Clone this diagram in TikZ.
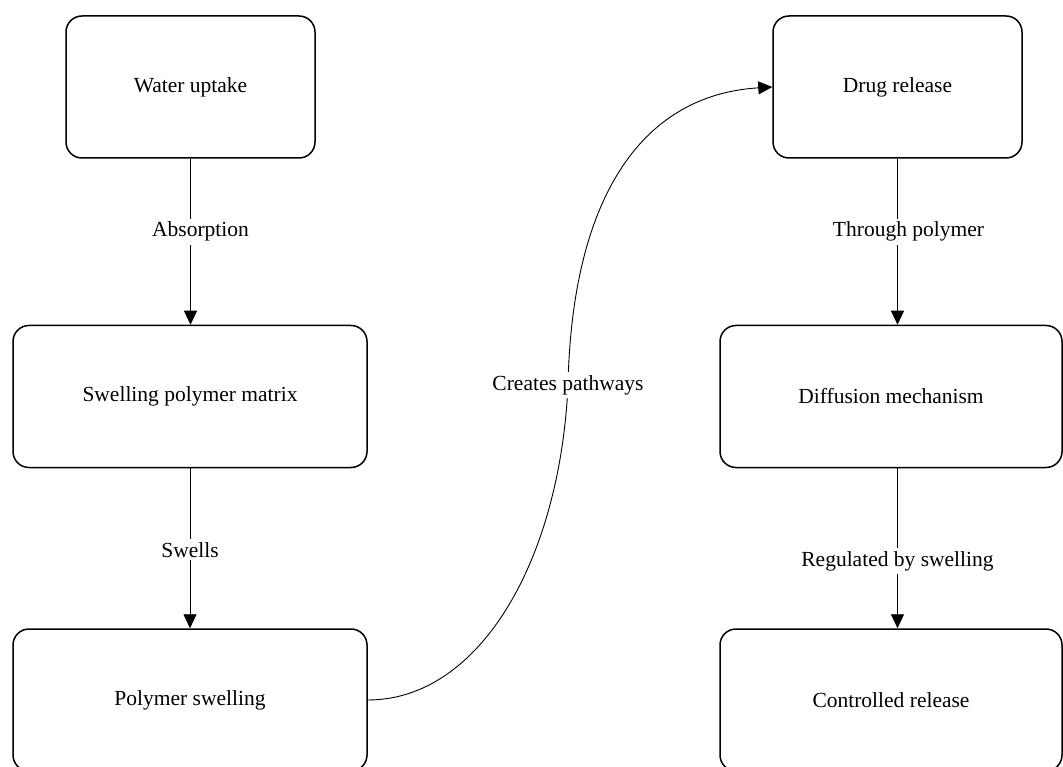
\documentclass[tikz,border=0pt]{standalone}
\usepackage{fontspec}
\setmainfont{Liberation Serif}
\usepackage{tikz}
\usetikzlibrary{arrows.meta,positioning}

\begin{document}
\begin{tikzpicture}[
                x=1pt,y=-1pt,
                font=\fontsize{21.5}{26}\selectfont,
                stage/.style={draw,line width=1.5pt,rounded corners=16pt,minimum height=142pt,inner sep=0pt},
                narrowstage/.style={stage,minimum width=249pt},
                widestage/.style={stage,minimum width=354pt},
                flow/.style={-{Triangle[length=14pt,width=13pt]},line width=0.9pt},
                tag/.style={fill=white,inner sep=3pt}
            ]
                \clip (0,0) rectangle (1063,767);
                \node [narrowstage] (water) at (190.5,87) {Water uptake};
                \node [widestage] (matrix) at (190,396.5) {Swelling polymer matrix};
                \node [widestage] (polyswell) at (190,700) {Polymer swelling};
                \node [narrowstage] (drug) at (897.5,87) {Drug release};
                \node [stage,minimum width=342pt] (diffusion) at (891,396.5) {Diffusion mechanism};
                \node [stage,minimum width=342pt] (controlled) at (891,700) {Controlled release};
                \draw [flow] (water.south) -- (water.south |- matrix.north) node [tag,pos=0.44,xshift=10pt] {Absorption};
                \draw [flow] (matrix.south) -- (polyswell.north) node [tag,pos=0.51] {Swells};
                \draw [flow] (polyswell.east) .. controls (480,700) and (560,560) .. (568,385) node [tag] {Creates pathways}
                    .. controls (572,200) and (640,95) .. (drug.west);
                \draw [flow] (drug.south) -- (drug.south |- diffusion.north) node [tag,pos=0.44,xshift=11pt] {Through polymer};
                \draw [flow] (drug.south |- diffusion.south) -- (drug.south |- controlled.north) node [tag,pos=0.58] {Regulated by swelling};
            \end{tikzpicture}
\end{document}
